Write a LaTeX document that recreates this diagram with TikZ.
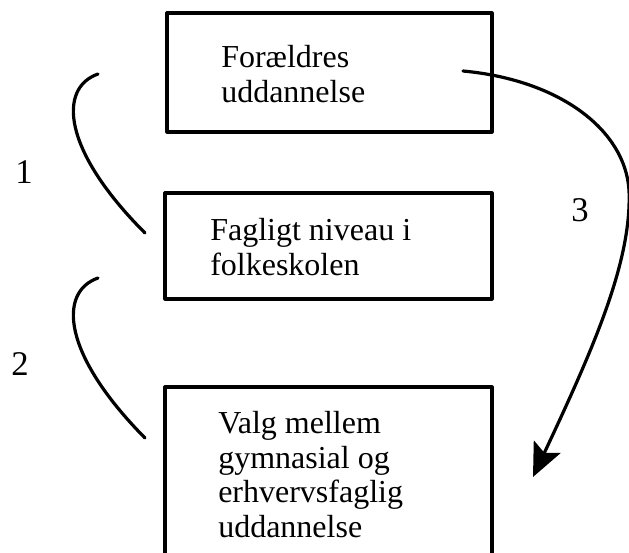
\documentclass[tikz,border=0pt]{standalone}
\usepackage{fontspec}
\setmainfont{Liberation Serif}
\usetikzlibrary{arrows.meta}
\begin{document}
\begin{tikzpicture}[x=0.75pt,y=-0.75pt,
  box/.style={draw, line width=2.4pt, line join=round, rectangle, inner sep=0pt, outer sep=0pt, anchor=north west},
  boxtext/.style={anchor=base west, inner sep=0pt, align=left, font=\fontsize{24}{25.95}\selectfont},
  lbl/.style={anchor=base, inner sep=0pt, font=\fontsize{26}{30}\selectfont},
  link/.style={line width=2.4pt, line cap=round, line join=round},
]
\clip (0,0) rectangle (629,553);
\fill[white] (0,0) rectangle (629,553);
% boxes
\node[box, minimum width=243.75pt, minimum height=89.25pt] (b1) at (167,13) {};
\node[box, minimum width=245.25pt, minimum height=79.5pt] (b2) at (165,193) {};
\node[box, minimum width=245.25pt, minimum height=187.5pt] (b3) at (165,387) {};
% texts (base anchor = baseline of the last line)
\node[boxtext] (t1) at (221,102) {Forældres\\uddannelse};
\node[boxtext] (t2) at (210,275) {Fagligt niveau i\\folkeskolen};
\node[boxtext] (t3) at (218,537.2) {Valg mellem\\gymnasial og\\erhvervsfaglig\\uddannelse};
% labels
\node[lbl] (l1) at (24,183) {1};
\node[lbl] (l2) at (20,375) {2};
\node[lbl] (l3) at (580,221) {3};
% connectors
\coordinate (c1a) at (98,74);
\coordinate (c1b) at (145,233);
\coordinate (c2a) at (98,278);
\coordinate (c2b) at (145,438);
\coordinate (c3a) at (463,71);
\coordinate (c3m) at (629,190);
\coordinate (c3b) at (533,477);
\draw[link] (c1a) .. controls (58,88) and (62,150) .. (c1b);
\draw[link] (c2a) .. controls (58,292) and (62,354) .. (c2b);
\draw[link, -{Stealth[length=25pt, width=22pt, inset=5pt]}] (c3a) .. controls (560,80) and (625,130) .. (c3m) .. controls (632,260) and (595,345) .. (c3b);
\end{tikzpicture}
\end{document}
